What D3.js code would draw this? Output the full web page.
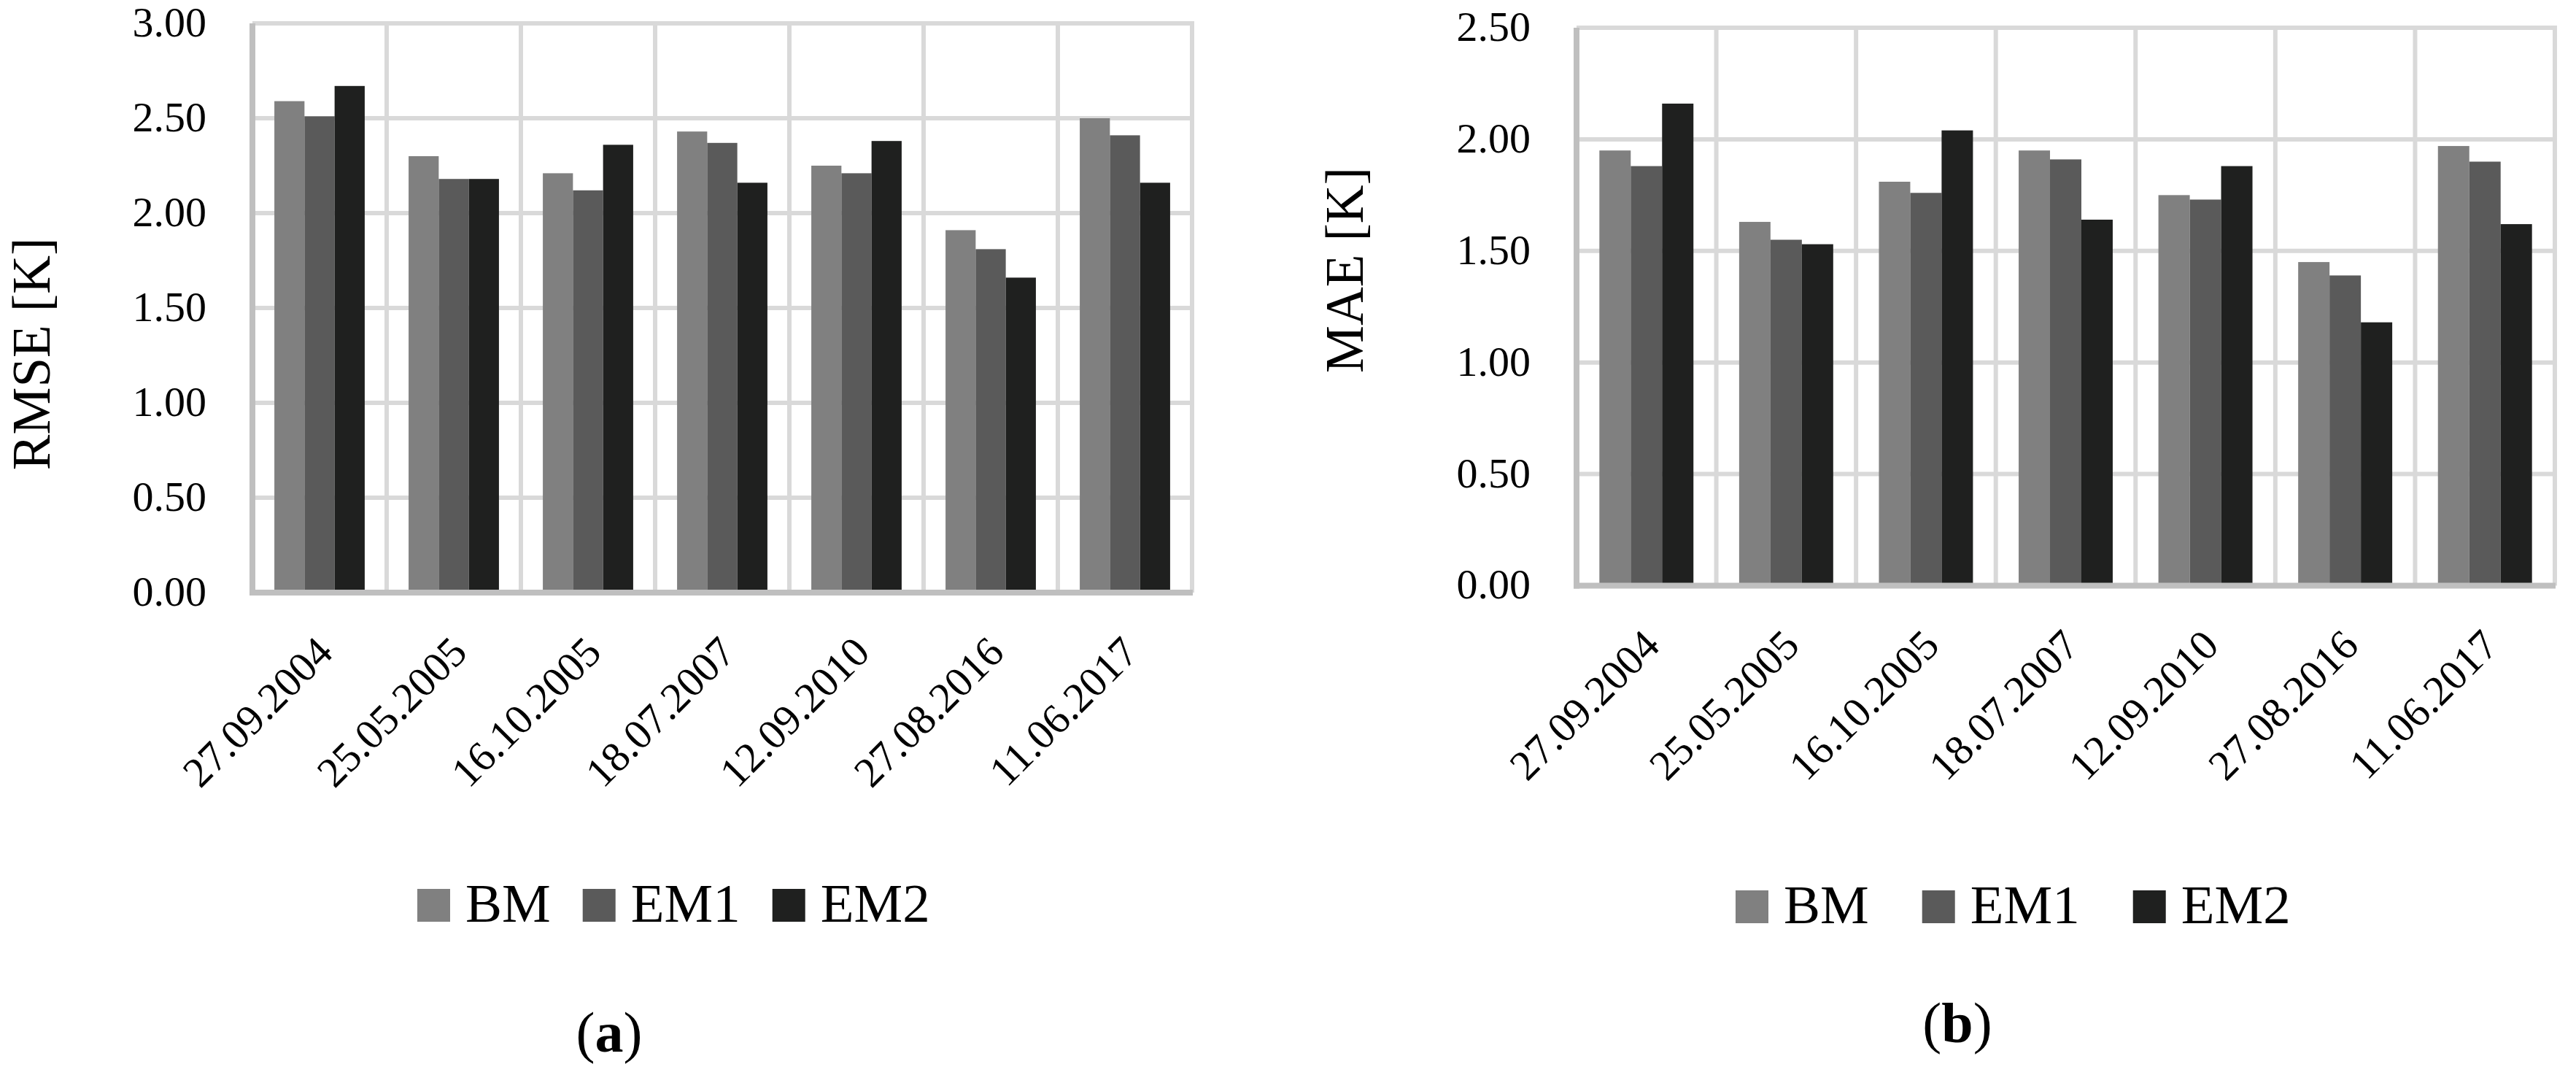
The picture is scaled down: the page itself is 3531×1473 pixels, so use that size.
<!DOCTYPE html>
<html><head><meta charset="utf-8">
<script src="https://cdn.jsdelivr.net/npm/d3@7"></script>
<style>body{margin:0;background:#fff}svg{display:block}</style>
</head><body>
<svg id="chart" width="3531" height="1473"></svg>
<script>
const categories = ["27.09.2004","25.05.2005","16.10.2005","18.07.2007","12.09.2010","27.08.2016","11.06.2017"];
const seriesNames = ["BM","EM1","EM2"];
const rmseBM  = [2.59,2.30,2.21,2.43,2.25,1.91,2.50];
const rmseEM1 = [2.51,2.18,2.12,2.37,2.21,1.81,2.41];
const rmseEM2 = [2.67,2.18,2.36,2.16,2.38,1.66,2.16];
const maeBM  = [1.95,1.63,1.81,1.95,1.75,1.45,1.97];
const maeEM1 = [1.88,1.55,1.76,1.91,1.73,1.39,1.90];
const maeEM2 = [2.16,1.53,2.04,1.64,1.88,1.18,1.62];
const rmseTicks = [0,0.5,1,1.5,2,2.5,3];
const maeTicks  = [0,0.5,1,1.5,2,2.5];
const colors = ["#808080","#5a5a5a","#1f201f"];
const FONT = "'Liberation Serif','Times New Roman',serif";

const svg = d3.select("#chart");
svg.append("rect").attr("width",3531).attr("height",1473).attr("fill","#fff");

function panel(cfg){
  const g = svg.append("g");
  const x = d3.scaleBand().domain(categories).range([cfg.left, cfg.right]).paddingInner(0).paddingOuter(0);
  const groupFrac = 0.673;
  const xs = d3.scaleBand().domain(seriesNames).range([0, x.bandwidth()*groupFrac]);
  const off = x.bandwidth()*(1-groupFrac)/2;
  const y = d3.scaleLinear().domain([0, cfg.yMax]).range([cfg.bottom, cfg.top]);

  // horizontal gridlines
  g.append("g").selectAll("line").data(cfg.ticks.filter(t=>t>0)).join("line")
    .attr("x1", cfg.left).attr("x2", cfg.right+3)
    .attr("y1", d=>y(d)).attr("y2", d=>y(d))
    .attr("stroke","#d9d9d9").attr("stroke-width",6);
  // vertical gridlines at category boundaries
  const bounds = categories.slice(1).map(c=>x(c)).concat([cfg.right]);
  g.append("g").selectAll("line").data(bounds).join("line")
    .attr("x1", d=>d).attr("x2", d=>d)
    .attr("y1", y(cfg.yMax)-3).attr("y2", cfg.bottom)
    .attr("stroke","#d9d9d9").attr("stroke-width",6);

  // bars
  const series = seriesNames.map((s,i)=>({name:s, color:colors[i], values:cfg.values[i]}));
  series.forEach(s=>{
    g.append("g").selectAll("rect").data(s.values).join("rect")
      .attr("x",(d,i)=>x(categories[i])+off+xs(s.name))
      .attr("width", xs.bandwidth())
      .attr("y", d=>y(d)).attr("height", d=>y(0)-y(d))
      .attr("fill", s.color);
  });

  // axis lines
  g.append("line").attr("x1",cfg.left-4).attr("x2",cfg.right+1)
    .attr("y1",cfg.bottom).attr("y2",cfg.bottom)
    .attr("stroke","#bfbfbf").attr("stroke-width",8);
  g.append("line").attr("x1",cfg.left).attr("x2",cfg.left)
    .attr("y1",y(cfg.yMax)).attr("y2",cfg.bottom+4)
    .attr("stroke","#bfbfbf").attr("stroke-width",8);

  // y axis ticks
  const ya = g.append("g").attr("transform",`translate(${cfg.left},0)`)
    .call(d3.axisLeft(y).tickValues(cfg.ticks).tickFormat(d3.format(".2f")).tickSize(0).tickPadding(63));
  ya.select(".domain").remove();
  ya.selectAll("text").attr("font-family",FONT).attr("font-size",58).attr("fill","#000").attr("dy","0.30em");

  // x axis labels
  const xa = g.append("g").attr("transform",`translate(0,${cfg.bottom})`)
    .call(d3.axisBottom(x).tickSize(0));
  xa.select(".domain").remove();
  xa.selectAll("text").attr("font-family",FONT).attr("font-size",58).attr("fill","#000")
    .attr("x",0).attr("y",0).attr("dy",0).attr("text-anchor","end")
    .attr("transform","translate(21,85) rotate(-45)");

  // axis title
  g.append("text").attr("transform",`translate(${cfg.titleX},${cfg.titleY}) rotate(-90)`)
    .attr("text-anchor","middle").attr("font-family",FONT).attr("font-size",73).attr("fill","#000")
    .text(cfg.title);

  // legend
  let lx = cfg.legendX;
  series.forEach(s=>{
    g.append("rect").attr("x",lx).attr("y",cfg.legendY-45).attr("width",45).attr("height",45).attr("fill",s.color);
    const t = g.append("text").attr("x",lx+66).attr("y",cfg.legendY)
      .attr("font-family",FONT).attr("font-size",75).attr("fill","#000").text(s.name);
    lx = lx + 66 + t.node().getComputedTextLength() + cfg.legendGap;
  });

  // panel label
  const lab = g.append("text").attr("x",cfg.labelX).attr("y",cfg.labelY).attr("text-anchor","middle")
    .attr("font-family",FONT).attr("font-size",78).attr("fill","#000");
  lab.append("tspan").text("(");
  lab.append("tspan").attr("font-weight","bold").text(cfg.label);
  lab.append("tspan").text(")");
}

panel({left:346,right:1634,top:32,bottom:812,yMax:3,ticks:rmseTicks,
  values:[rmseBM,rmseEM1,rmseEM2],title:"RMSE [K]",titleX:68,titleY:485,
  legendX:572,legendY:1263,legendGap:44,label:"a",labelX:835,labelY:1441});
panel({left:2161,right:3502,top:38,bottom:802.5,yMax:2.5,ticks:maeTicks,
  values:[maeBM,maeEM1,maeEM2],title:"MAE [K]",titleX:1868,titleY:370,
  legendX:2379,legendY:1265,legendGap:73,label:"b",labelX:2683,labelY:1428});
</script>
</body></html>
